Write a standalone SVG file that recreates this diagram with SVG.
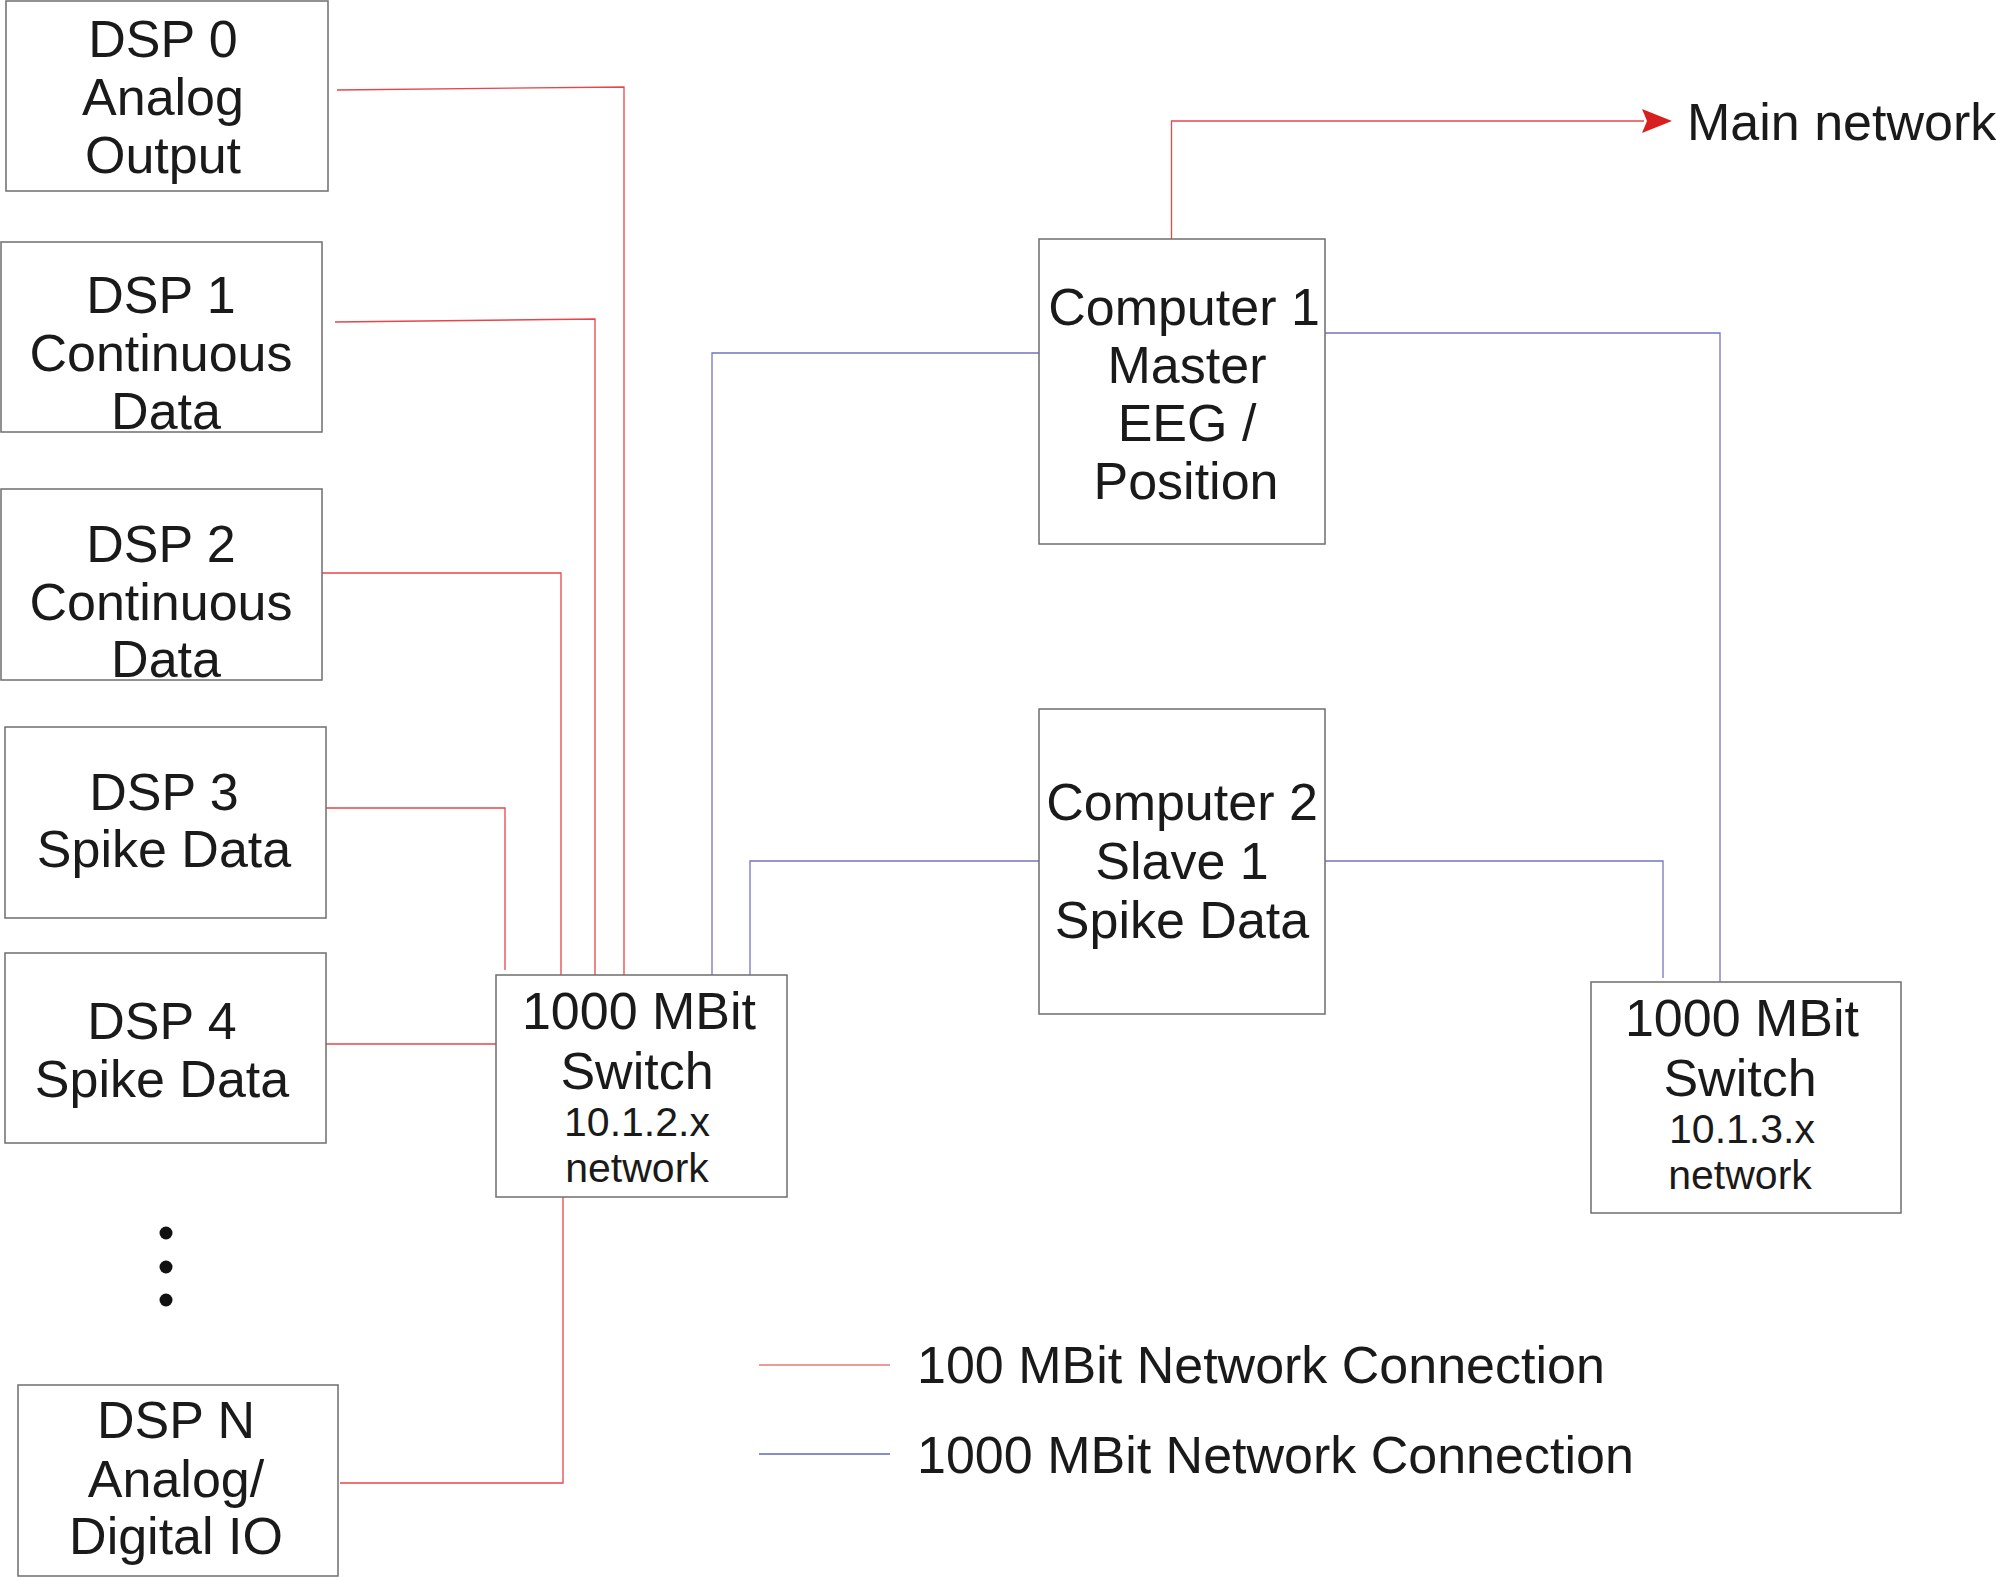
<svg xmlns="http://www.w3.org/2000/svg" width="1996" height="1577" viewBox="0 0 1996 1577">
<style>
.box{fill:#fff;stroke:#6e6e6e;stroke-width:1.5}
.t{font-family:"Liberation Sans",Arial,sans-serif;font-size:52px;fill:#1a1a1a;text-anchor:middle}
.s{font-size:41px}
.red{fill:none;stroke:#e8454a;stroke-width:1.3}
.blue{fill:none;stroke:#7474bf;stroke-width:1.3}
</style>
<rect width="1996" height="1577" fill="#fff"/>
<g id="connectors">
<polyline class="red" points="337,90 624,87 624,975"/>
<polyline class="red" points="335,322 595,319 595,981"/>
<polyline class="red" points="322,573 561,573 561,975"/>
<polyline class="red" points="326,808 505,808 505,970"/>
<polyline class="red" points="326,1044 496,1044"/>
<polyline class="red" points="340,1483 563,1483 563,1197"/>
<polyline class="blue" points="712,975 712,353 1039,353"/>
<polyline class="blue" points="750,975 750,861 1039,861"/>
<polyline class="blue" points="1325,333 1720,333 1720,982"/>
<polyline class="blue" points="1325,861 1663,861 1663,978"/>
<polyline class="red" points="1171.5,239 1171.5,121 1644,121"/>
<path d="M1642,109 L1672,121 L1642,133 L1647,121 Z" fill="#d92020"/>
</g>
<g id="dsp0"><rect class="box" x="6" y="1" width="322" height="190"/>
<text class="t" x="163" y="57">DSP 0</text><text class="t" x="163" y="115">Analog</text><text class="t" x="163" y="173">Output</text></g>
<g id="dsp1"><rect class="box" x="1" y="242" width="321" height="190"/>
<text class="t" x="161" y="313">DSP 1</text><text class="t" x="161" y="371">Continuous</text><text class="t" x="166" y="429">Data</text></g>
<g id="dsp2"><rect class="box" x="1" y="489" width="321" height="191"/>
<text class="t" x="161" y="562">DSP 2</text><text class="t" x="161" y="620">Continuous</text><text class="t" x="166" y="677">Data</text></g>
<g id="dsp3"><rect class="box" x="5" y="727" width="321" height="191"/>
<text class="t" x="164" y="810">DSP 3</text><text class="t" x="164" y="867">Spike Data</text></g>
<g id="dsp4"><rect class="box" x="5" y="953" width="321" height="190"/>
<text class="t" x="162" y="1039">DSP 4</text><text class="t" x="162" y="1097">Spike Data</text></g>
<g id="dots" fill="#111"><circle cx="166" cy="1233" r="6.5"/><circle cx="166" cy="1267" r="6.5"/><circle cx="166" cy="1300" r="6.5"/></g>
<g id="dspN"><rect class="box" x="18" y="1385" width="320" height="191"/>
<text class="t" x="176" y="1438">DSP N</text><text class="t" x="176" y="1497">Analog/</text><text class="t" x="176" y="1554">Digital IO</text></g>
<g id="switch1"><rect class="box" x="496" y="975" width="291" height="222"/>
<text class="t" x="639" y="1029">1000 MBit</text><text class="t" x="637" y="1089">Switch</text>
<text class="t s" x="637" y="1136">10.1.2.x</text><text class="t s" x="637" y="1182">network</text></g>
<g id="computer1"><rect class="box" x="1039" y="239" width="286" height="305"/>
<text class="t" x="1184" y="325">Computer 1</text><text class="t" x="1187" y="383">Master</text><text class="t" x="1187" y="441">EEG /</text><text class="t" x="1186" y="499">Position</text></g>
<g id="computer2"><rect class="box" x="1039" y="709" width="286" height="305"/>
<text class="t" x="1182" y="820">Computer 2</text><text class="t" x="1182" y="879">Slave 1</text><text class="t" x="1182" y="938">Spike Data</text></g>
<g id="switch2"><rect class="box" x="1591" y="982" width="310" height="231"/>
<text class="t" x="1742" y="1036">1000 MBit</text><text class="t" x="1740" y="1096">Switch</text>
<text class="t s" x="1742" y="1143">10.1.3.x</text><text class="t s" x="1740" y="1189">network</text></g>
<g id="mainnet"><text class="t" x="1687" y="140" style="text-anchor:start">Main network</text></g>
<g id="legend">
<line x1="759" y1="1365" x2="890" y2="1365" stroke="#ec9a9a" stroke-width="2"/>
<line x1="759" y1="1454" x2="890" y2="1454" stroke="#8c8cc8" stroke-width="2"/>
<text class="t" x="917" y="1383" style="text-anchor:start">100 MBit Network Connection</text>
<text class="t" x="917" y="1473" style="text-anchor:start">1000 MBit Network Connection</text>
</g>
</svg>
